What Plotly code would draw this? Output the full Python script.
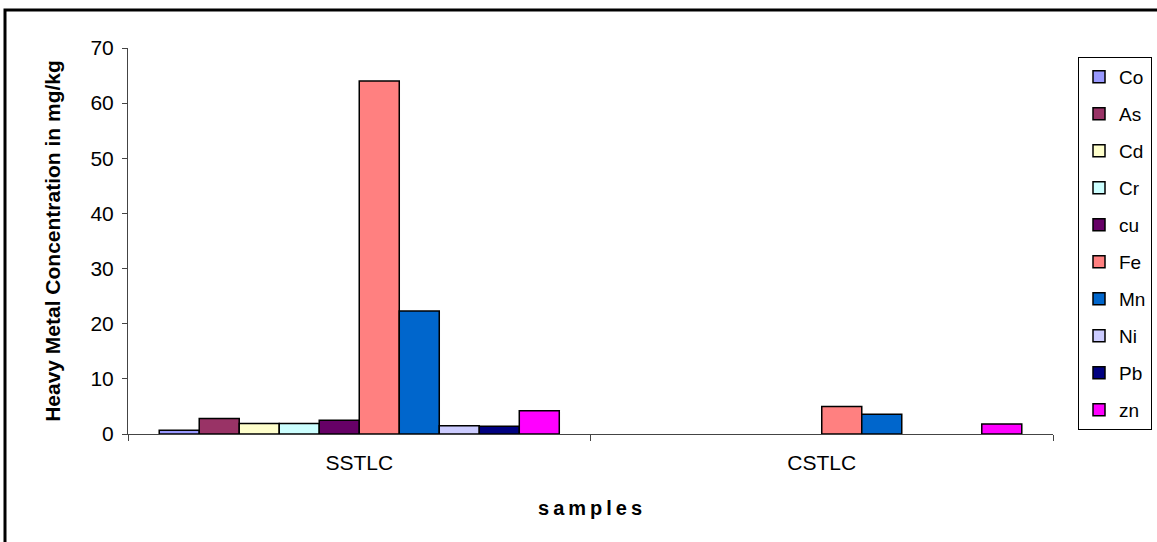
import plotly.graph_objects as go

# Sample groups on the category axis
samples = ["SSTLC", "CSTLC"]

# Heavy metal concentrations (mg/kg) for each sample; None where not detected
co = [0.7, None]
as_ = [2.8, None]
cd = [1.9, None]
cr = [1.9, None]
cu = [2.5, None]
fe = [64.0, 5.0]
mn = [22.3, 3.6]
ni = [1.5, None]
pb = [1.4, None]
zn = [4.2, 1.8]

series = [
    ("Co", co, "#9999FF"),
    ("As", as_, "#993366"),
    ("Cd", cd, "#FFFFCC"),
    ("Cr", cr, "#CCFFFF"),
    ("cu", cu, "#660066"),
    ("Fe", fe, "#FF8080"),
    ("Mn", mn, "#0066CC"),
    ("Ni", ni, "#CCCCFF"),
    ("Pb", pb, "#000080"),
    ("zn", zn, "#FF00FF"),
]

FONT = "Liberation Sans, Arial, sans-serif"

fig = go.Figure()
for name, vals, color in series:
    fig.add_trace(go.Bar(
        name=name, x=samples, y=vals,
        marker=dict(color=color, line=dict(color="black", width=1.5)),
        legendgroup=name,
    ))

W, H = 1157, 542
L, R, T, B = 128, 104, 48, 108
pw, ph = W - L - R, H - T - B

fig.update_layout(
    width=W, height=H,
    margin=dict(l=L, r=R, t=T, b=B, autoexpand=False),
    paper_bgcolor="white", plot_bgcolor="white",
    barmode="group", bargap=0.135, bargroupgap=0,
    font=dict(family=FONT, color="black", size=20),
    showlegend=True,
    legend=dict(
        x=(1078 - L) / pw, y=1 - (57 - T) / ph,
        xanchor="left", yanchor="top",
        bordercolor="black", borderwidth=1,
        font=dict(size=19, family=FONT),
        tracegroupgap=9.3,
        traceorder="grouped",
        itemwidth=30,
    ),
    xaxis=dict(
        showline=True, linecolor="#444", linewidth=1,
        ticks="outside", tickson="boundaries", ticklen=6, tickcolor="#444",
        tickfont=dict(size=21), showgrid=False, ticklabelstandoff=10,
    ),
    yaxis=dict(
        range=[0, 70], dtick=10,
        showline=True, linecolor="#444", linewidth=1,
        ticks="outside", ticklen=5, tickcolor="#444",
        tickfont=dict(size=21), showgrid=False, zeroline=False,
        ticklabelstandoff=4,
        title=dict(text="<b>Heavy Metal Concentration in mg/kg</b>",
                   font=dict(size=21), standoff=24),
    ),
    shapes=[dict(
        type="rect", xref="paper", yref="paper",
        x0=(5 - L) / pw, x1=(W + 20 - L) / pw,
        y0=-(H + 20 - T - ph) / ph, y1=1 + (T - 10) / ph,
        line=dict(color="black", width=3), fillcolor="rgba(0,0,0,0)",
        layer="above",
    )],
    annotations=[dict(
        text="<b>s\u2009a\u2009m\u2009p\u2009l\u2009e\u2009s</b>",
        xref="paper", yref="paper",
        x=(590 - L) / pw, y=-(508 - T - ph) / ph,
        xanchor="center", yanchor="middle", showarrow=False,
        font=dict(size=20, family=FONT),
    )],
)

fig.write_html("out.html")
